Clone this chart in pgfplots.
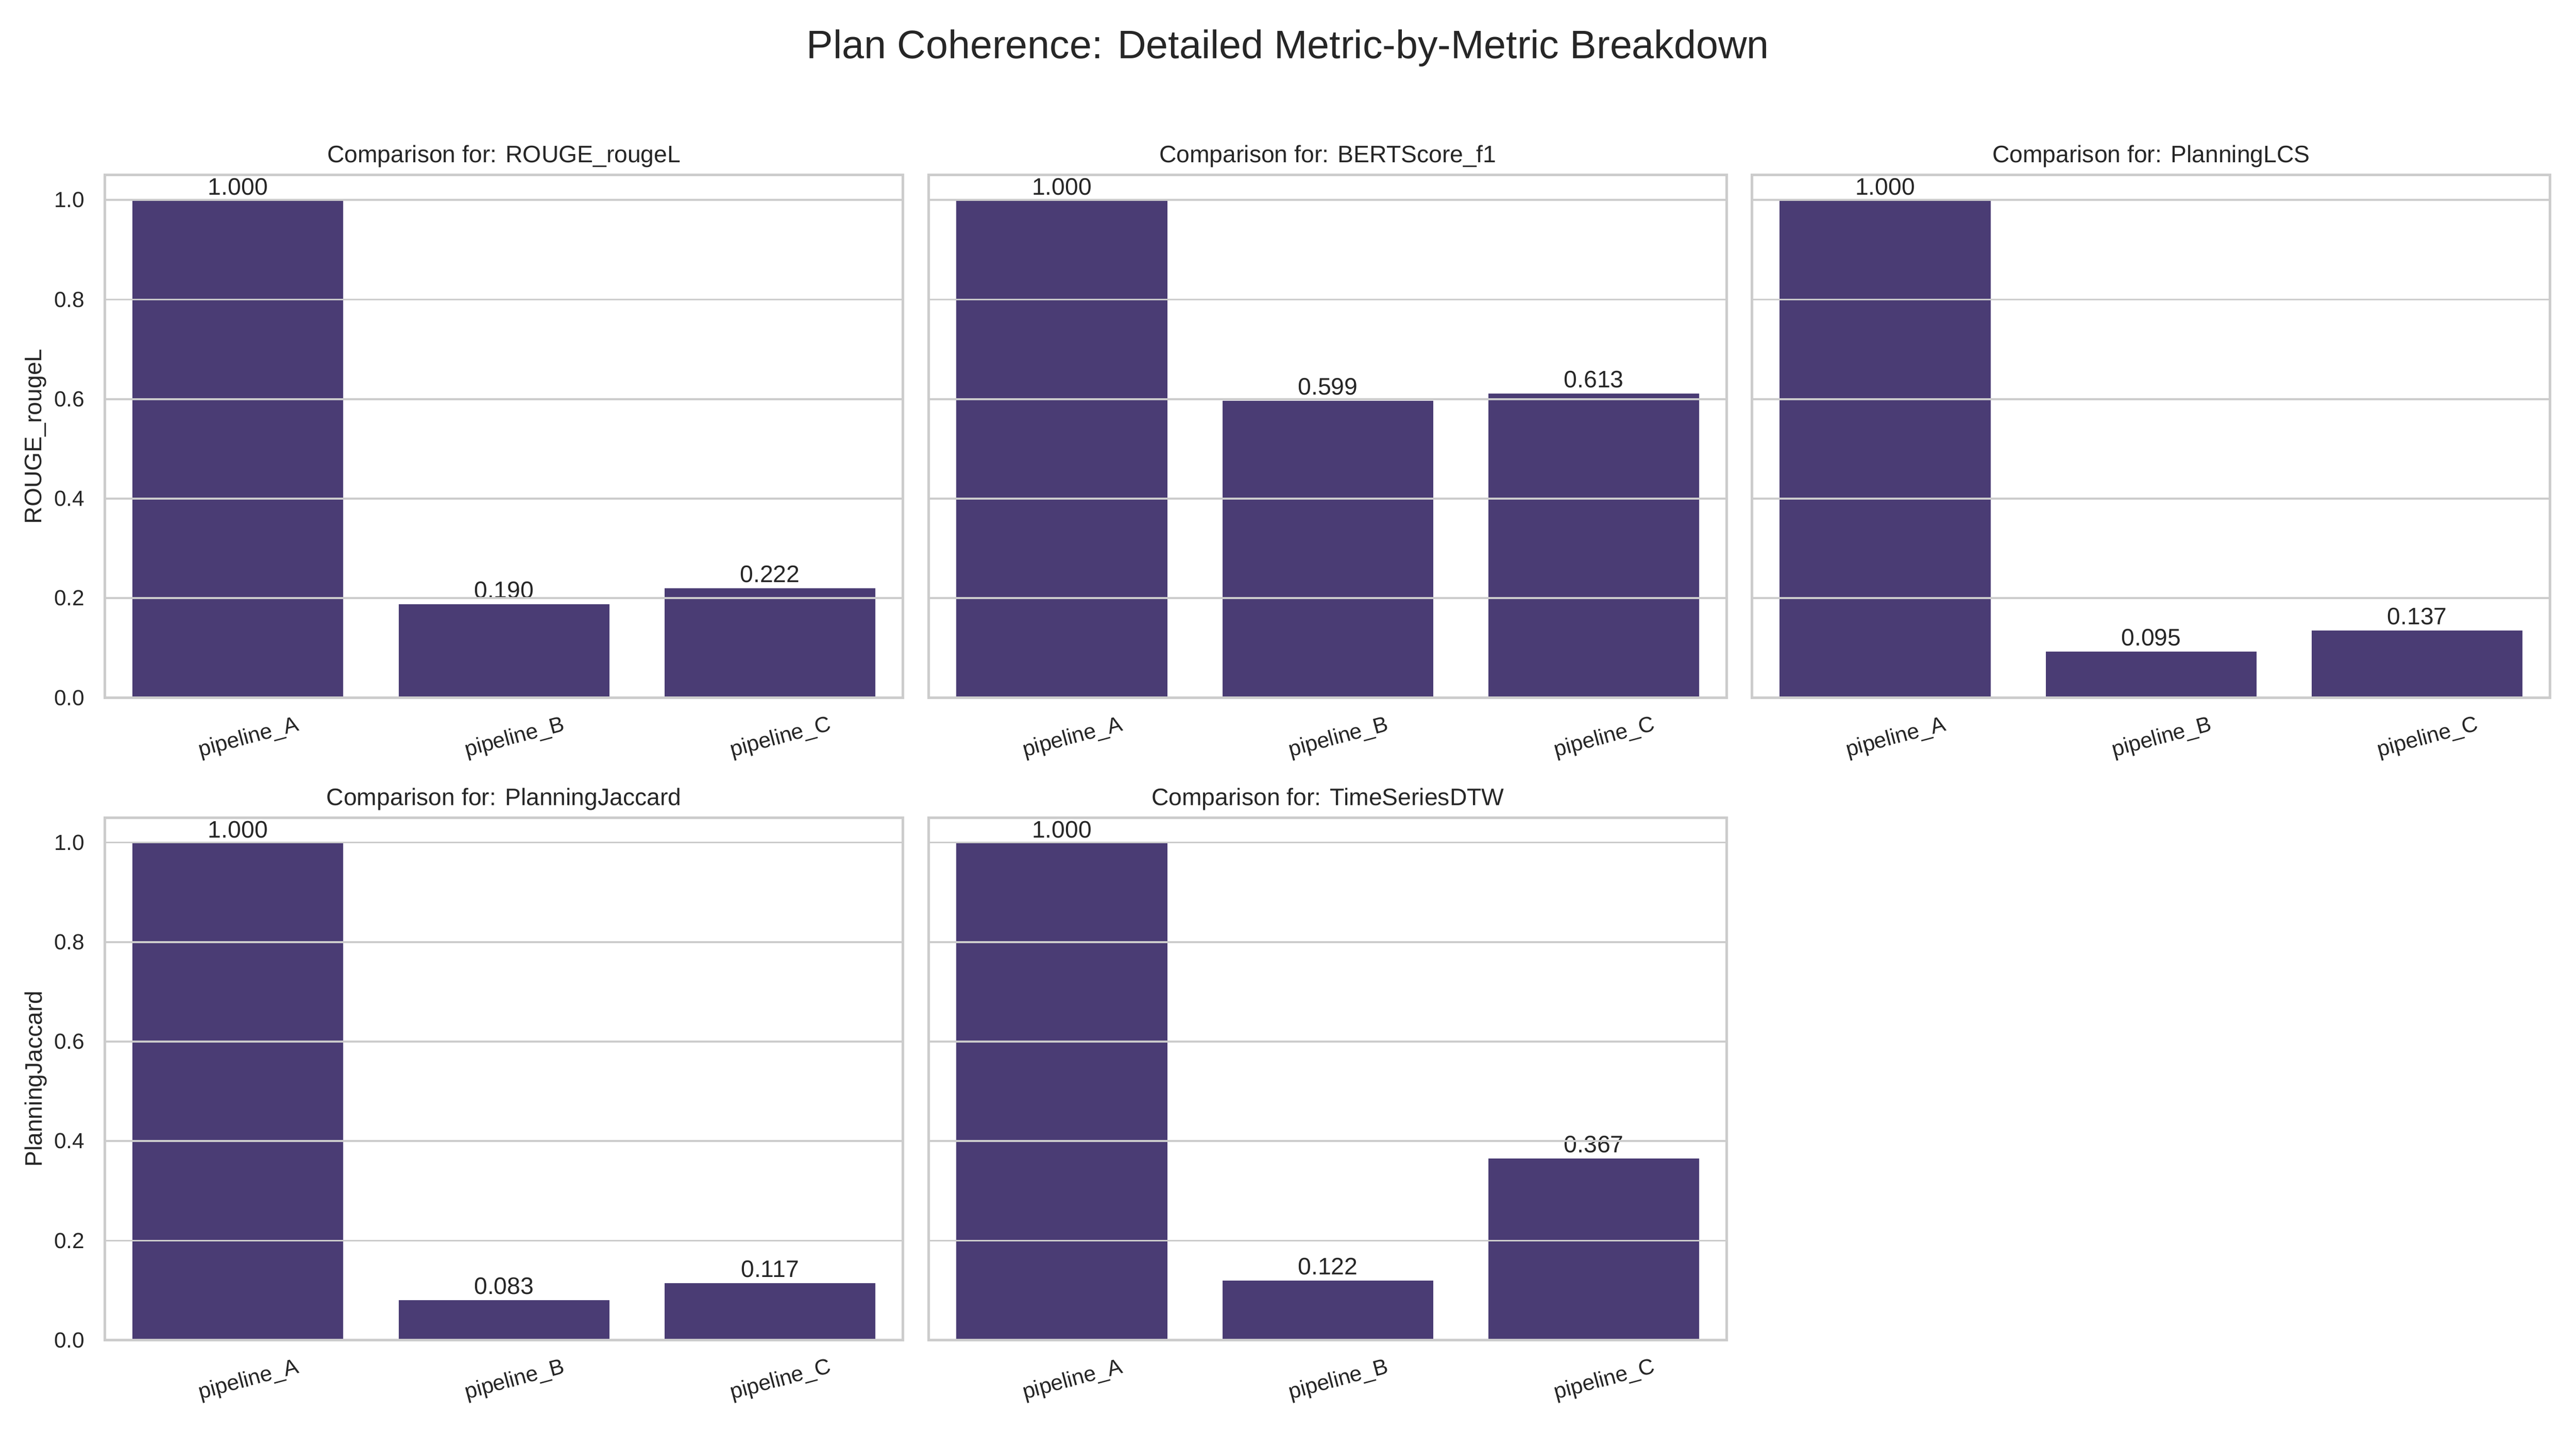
\documentclass[border=0pt]{standalone}
\usepackage{pgfplots}
\pgfplotsset{compat=1.18}
\usepackage{fontspec}
\setmainfont{Liberation Sans}
\definecolor{textc}{HTML}{262626}
\definecolor{gridc}{HTML}{CCCCCC}
\definecolor{barc}{HTML}{4A3C74}
\newcommand{\fsz}[1]{\fontsize{#1}{#1}\selectfont}
\pgfplotsset{
  panel/.style={
    set layers, axis on top,
    scale only axis, width=401.5pt, height=263pt, anchor=north west,
    xmin=-0.5, xmax=2.5, ymin=0, ymax=1.05,
    xtick={0,1,2}, xticklabels={pipeline\_A,pipeline\_B,pipeline\_C},
    ytick={0,0.2,0.4,0.6,0.8,1.0},
    major tick length=0pt,
    axis line style={draw=gridc, line width=1.25pt},
    ymajorgrids, xmajorgrids=false,
    grid style={draw=gridc, line width=1pt, /pgfplots/on layer=axis background},
    xticklabel style={rotate=15, anchor=center, yshift=-21pt, font=\fsz{11}, text=textc, inner sep=0pt},
    yticklabel style={anchor=east, font=\fsz{11}, text=textc, inner sep=0pt, xshift=-10pt},
    every axis title/.style={at={(axis description cs:0.5,1)}, anchor=base, yshift=6.2pt, font=\fsz{12}, text=textc, inner sep=0pt},
    every axis y label/.style={at={(axis description cs:-0.0867,0.5)}, rotate=90, anchor=center, font=\fsz{12}, text=textc, inner sep=0pt},
    ybar, bar width=0.8, bar shift=0pt,
    point meta=explicit symbolic,
    nodes near coords=\pgfplotspointmeta,
    every node near coord/.style={anchor=base, yshift=2.4pt, inner sep=0pt, font=\fsz{12}, text=textc},
  },
  noylabels/.style={yticklabel={\empty}},
  barstyle/.style={fill=barc, draw=white, line width=1pt},
}
\begin{document}
\begin{tikzpicture}
\path (0,0) rectangle (1296pt,720pt);
\node[anchor=base, font=\fsz{20}, text=textc, inner sep=0pt] at (648pt,690.7pt) {Plan Coherence: Detailed Metric-by-Metric Breakdown};

% Row 1
\begin{axis}[panel, at={(52.8pt,631.9pt)},
  title={Comparison for: ROUGE\_rougeL}, ylabel={ROUGE\_rougeL},
  yticklabels={0.0,0.2,0.4,0.6,0.8,1.0}]
\addplot[barstyle] coordinates {(0,1.000)[1.000] (1,0.190)[0.190] (2,0.222)[0.222]};
\end{axis}

\begin{axis}[panel, noylabels, at={(467.3pt,631.9pt)},
  title={Comparison for: BERTScore\_f1}]
\addplot[barstyle] coordinates {(0,1.000)[1.000] (1,0.599)[0.599] (2,0.613)[0.613]};
\end{axis}

\begin{axis}[panel, noylabels, at={(881.5pt,631.9pt)},
  title={Comparison for: PlanningLCS}]
\addplot[barstyle] coordinates {(0,1.000)[1.000] (1,0.095)[0.095] (2,0.137)[0.137]};
\end{axis}

% Row 2
\begin{axis}[panel, at={(52.8pt,308.6pt)},
  title={Comparison for: PlanningJaccard}, ylabel={PlanningJaccard},
  yticklabels={0.0,0.2,0.4,0.6,0.8,1.0}]
\addplot[barstyle] coordinates {(0,1.000)[1.000] (1,0.083)[0.083] (2,0.117)[0.117]};
\end{axis}

\begin{axis}[panel, noylabels, at={(467.3pt,308.6pt)},
  title={Comparison for: TimeSeriesDTW}]
\addplot[barstyle] coordinates {(0,1.000)[1.000] (1,0.122)[0.122] (2,0.367)[0.367]};
\end{axis}
\end{tikzpicture}
\end{document}
